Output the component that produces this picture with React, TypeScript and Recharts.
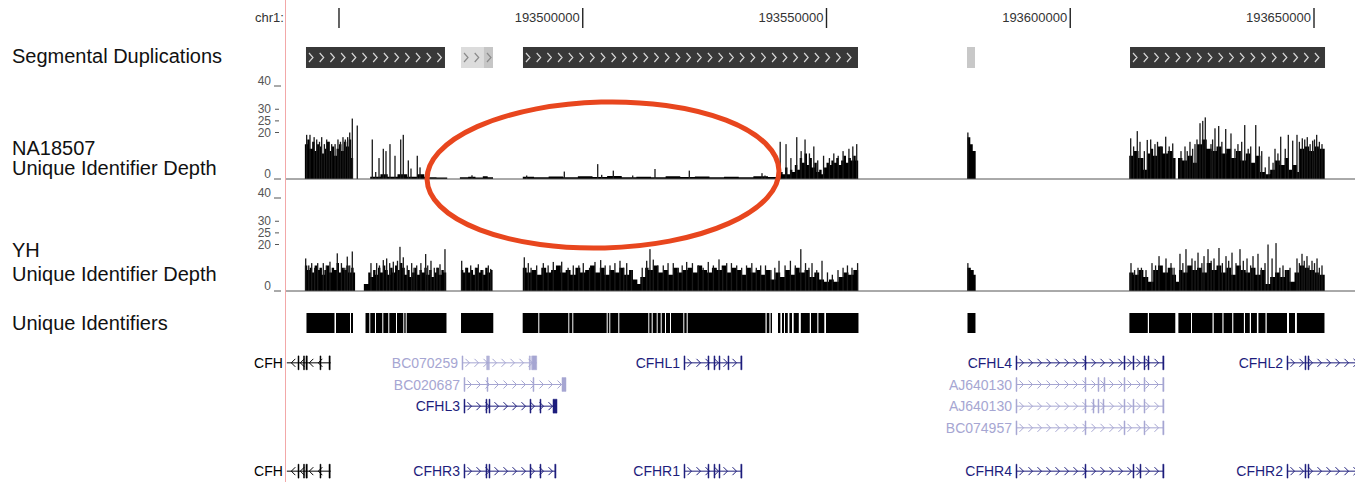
import React from 'react'
import { ComposedChart, Area, Bar, XAxis, YAxis, ReferenceArea, ReferenceLine } from 'recharts'

// chr1 window shown, in kb
const viewStart = 193439.13
const viewEnd = 193658.41

const rulerTicks = [193450, 193500, 193550, 193600, 193650]
const rulerLabels = ['', '193500000', '193550000', '193600000', '193650000']
const depthTicks = [0, 20, 25, 30, 40]

// Segmental duplications (kb) and % identity level
const segDupStart = [193443.23, 193475.03, 193479.74, 193487.74, 193578.82, 193612.26]
const segDupEnd = [193471.74, 193479.74, 193481.59, 193556.46, 193580.46, 193652.26]
const segDupIdentity = [0.995, 0.985, 0.99, 0.995, 0.988, 0.995]

// NA18507 depth: coverage steps [pos kb, depth] and single-base peaks
const naCoverage = [
  [193443.0, 15], [193443.5, 17], [193444.0, 13], [193444.5, 16], [193445.0, 12], [193445.5, 15], [193446.0, 14], [193446.5, 11],
  [193447.0, 13], [193447.5, 16], [193448.0, 12], [193448.5, 14], [193449.0, 10], [193449.5, 13], [193450.0, 15], [193450.5, 12],
  [193451.0, 16], [193451.5, 14], [193452.0, 17], [193452.5, 9], [193452.9, 0],
  [193456.4, 1], [193458.5, 2], [193460.0, 1], [193462.0, 2], [193464.0, 1], [193466.0, 2], [193467.5, 1],
  [193468.0, 0.8], [193470.0, 0.6], [193472.2, 0],
  [193474.8, 0.7], [193476.5, 1.0], [193478.0, 0.6], [193479.5, 1.2], [193480.5, 0.7], [193481.6, 0],
  [193487.7, 1.0], [193490, 0.7], [193493, 1.1], [193496, 0.8], [193499, 1.2], [193502, 0.9], [193505, 1.3], [193508, 0.8],
  [193511, 1.0], [193514, 0.7], [193517, 1.2], [193520, 0.9], [193523, 1.1], [193526, 0.8], [193529, 1.0], [193532, 0.7],
  [193535, 1.2], [193538, 0.9],
  [193540.3, 3], [193541, 2], [193541.5, 5], [193542, 2], [193542.5, 4], [193543, 3], [193543.5, 6], [193544, 4], [193544.5, 9],
  [193545, 7], [193545.5, 11], [193546, 6], [193546.5, 9], [193547, 5], [193547.5, 7], [193548, 3], [193548.5, 4], [193549, 2],
  [193549.5, 5], [193550, 7], [193550.5, 6], [193551, 8], [193551.5, 7], [193552, 9], [193552.5, 6], [193553, 8], [193553.5, 10],
  [193554, 7], [193554.5, 9], [193555, 8], [193555.5, 10], [193556, 8], [193556.5, 0],
  [193578.9, 18], [193579.5, 15], [193580, 12], [193580.6, 0],
  [193612.1, 10], [193613, 12], [193614, 9], [193615, 4], [193615.8, 11], [193616.5, 13], [193617, 10], [193618, 14], [193619, 11],
  [193620, 12], [193621, 9], [193621.6, 0], [193622.1, 9], [193623, 8], [193624, 10], [193625, 7], [193626, 15], [193627, 17],
  [193628, 13], [193629, 12], [193630, 14], [193631, 11], [193632, 13], [193633, 9], [193634, 12], [193635, 8], [193636, 11],
  [193637, 7], [193638, 10], [193639, 3], [193640, 2], [193641, 4], [193642, 8], [193643, 6], [193644, 9], [193644.8, 4],
  [193645.5, 6], [193646.5, 3], [193647, 13], [193648, 14], [193649, 12], [193650, 14], [193651, 13], [193652.2, 0],
]
const naPeaks = [
  [193443.37, 19], [193444.05, 19], [193444.9, 18], [193445.43, 17], [193446.0, 16], [193446.45, 18], [193447.0, 15],
  [193447.48, 17], [193448.0, 16], [193448.5, 15], [193449.2, 15], [193449.79, 17], [193450.3, 16], [193450.82, 18],
  [193451.3, 17], [193451.78, 18], [193452.2, 20], [193452.73, 26], [193453.75, 23],
  [193456.83, 17], [193457.53, 3], [193458.21, 9], [193459.09, 13], [193459.64, 12], [193460.46, 15], [193461.49, 10],
  [193462.66, 17], [193463.19, 19], [193464.22, 8], [193464.77, 4.5], [193466.06, 10], [193466.62, 5],
  [193477.28, 1.6], [193488.5, 1.5], [193496.22, 3.2], [193503.07, 6.4], [193503.89, 1.8], [193506.27, 3.6], [193510.25, 1.5],
  [193514.82, 4.3], [193521.86, 3.6], [193536.77, 2.5], [193537.38, 1.5],
  [193540.5, 16], [193541.7, 15], [193542.7, 9], [193543.9, 18], [193544.8, 12], [193545.6, 17], [193546.5, 11], [193547.4, 14],
  [193548.2, 8], [193549.4, 10], [193550.6, 9], [193551.5, 11], [193552.4, 10], [193553.4, 12], [193554.6, 13], [193555.4, 14],
  [193556.2, 15],
  [193579.0, 20],
  [193612.4, 17.5], [193613.0, 14], [193613.75, 20.6], [193614.31, 16], [193615.2, 12], [193615.8, 16.8], [193616.5, 17],
  [193617.38, 15], [193617.9, 16], [193618.6, 14], [193619.58, 18.2], [193620.3, 14], [193621.02, 15.3], [193622.72, 12],
  [193623.54, 14], [193624.0, 12], [193624.56, 16], [193625.1, 13], [193625.59, 15], [193626.0, 17], [193626.62, 24],
  [193627.18, 25], [193627.7, 26.5], [193628.87, 15], [193629.2, 17], [193629.69, 21.8], [193630.45, 22.8], [193631.1, 16],
  [193631.89, 21.5], [193632.97, 19.6], [193633.79, 13], [193634.4, 15], [193635.17, 16], [193635.79, 23.2], [193636.5, 13],
  [193637.02, 14], [193638.05, 23.2], [193638.79, 14], [193639.28, 12], [193640.0, 5], [193640.77, 9.6], [193641.6, 7],
  [193642.0, 13], [193642.6, 11], [193643.17, 18.2], [193644.1, 13], [193644.73, 19], [193645.63, 16.5], [193646.51, 19],
  [193647.0, 16], [193647.6, 17.5], [193648.1, 17], [193648.62, 18], [193649.2, 15], [193649.73, 16.5], [193650.1, 17],
  [193650.55, 19], [193651.1, 16], [193651.64, 15],
]

// YH depth
const yhCoverage = [
  [193443.0, 11], [193443.5, 9], [193444, 10], [193444.5, 8], [193445, 11], [193445.5, 9], [193446, 10], [193446.5, 7], [193447, 9],
  [193447.5, 11], [193448, 8], [193448.5, 10], [193449, 9], [193449.5, 12], [193450, 8], [193450.5, 10], [193451, 9], [193451.5, 11],
  [193452, 8], [193452.5, 10], [193453, 8], [193453.3, 0],
  [193455.1, 3], [193456, 8], [193456.5, 6], [193457, 9], [193457.5, 7], [193458, 10], [193458.5, 8], [193459, 11], [193459.5, 9],
  [193460, 7], [193460.5, 10], [193461, 8], [193461.5, 11], [193462, 9], [193462.5, 12], [193463, 10], [193463.5, 7], [193464, 9],
  [193464.5, 6], [193465, 8], [193465.5, 10], [193466, 7], [193466.5, 9], [193467, 8], [193467.5, 10], [193468, 7], [193468.5, 9],
  [193469, 6], [193469.5, 8], [193470, 10], [193470.5, 7], [193471, 9], [193471.5, 8], [193472, 0],
  [193475, 9], [193475.5, 8], [193476, 10], [193476.5, 8], [193477, 9], [193477.5, 7], [193478, 10], [193478.5, 8], [193479, 9],
  [193479.5, 7], [193480, 10], [193480.5, 8], [193481, 9], [193481.5, 0],
  [193487.7, 10], [193488.5, 8], [193489.5, 9], [193490.5, 7], [193491.5, 10], [193492.5, 8], [193493.5, 9], [193494.5, 11],
  [193495.5, 8], [193496.5, 9], [193497.5, 7], [193498.5, 10], [193499.5, 8], [193500.5, 9], [193501.5, 11], [193502.5, 8],
  [193503.5, 10], [193504.5, 7], [193505.5, 9], [193506.5, 8], [193507.5, 10], [193508.5, 7], [193509.5, 9], [193510.3, 5],
  [193511.2, 3], [193511.8, 6], [193512.8, 10], [193513.5, 9], [193514.5, 11], [193515.5, 8], [193516.5, 9], [193517.5, 7],
  [193518.5, 10], [193519.5, 8], [193520.5, 9], [193521.5, 10], [193522.5, 8], [193523.5, 11], [193524.5, 9], [193525.5, 8],
  [193526.5, 10], [193527.5, 9], [193528.5, 11], [193529.5, 8], [193530.5, 10], [193531.5, 9], [193532.5, 7], [193533.5, 10],
  [193534.5, 8], [193535.5, 9], [193536.5, 7], [193537.5, 9], [193538.5, 5], [193539.5, 8], [193540.5, 6], [193541.5, 9],
  [193542.5, 7], [193543.5, 10], [193544.5, 8], [193545.5, 9], [193546.5, 6], [193547.5, 8], [193548.5, 5], [193549.5, 4],
  [193550.5, 5], [193551.5, 4], [193552.5, 6], [193553.5, 8], [193554.5, 7], [193555.5, 9], [193556.5, 0],
  [193578.9, 10], [193579.6, 9], [193580.2, 7], [193580.6, 0],
  [193612.1, 8], [193613, 7], [193614, 9], [193615, 6], [193616, 4], [193617, 9], [193618, 11], [193619, 8], [193620, 10],
  [193621, 7], [193621.7, 4], [193622.3, 9], [193623, 8], [193624, 11], [193625, 9], [193626, 10], [193627, 8], [193628, 12],
  [193629, 9], [193630, 11], [193631, 8], [193632, 10], [193633, 7], [193634, 11], [193635, 9], [193636, 8], [193637, 10],
  [193638, 7], [193639, 9], [193640, 3], [193641, 6], [193642, 8], [193643, 6], [193644, 9], [193645, 4], [193646, 8],
  [193647, 11], [193648, 10], [193649, 9], [193650, 8], [193651, 7], [193652.2, 0],
]
const yhPeaks = [
  [193443.17, 14], [193443.8, 11], [193444.4, 12], [193445.0, 10], [193445.63, 12], [193446.78, 12], [193447.4, 11],
  [193448.15, 12.6], [193449.65, 16.2], [193450.5, 12], [193451.2, 10], [193451.7, 14.8], [193452.2, 11], [193452.73, 17],
  [193456.56, 12], [193457.73, 12], [193458.3, 11], [193459.09, 13.3], [193459.78, 14], [193460.4, 12], [193461.14, 12.6],
  [193462.0, 13], [193462.51, 19], [193463.19, 14.5], [193464.0, 11], [193464.91, 12], [193465.4, 10], [193465.94, 11],
  [193466.8, 12], [193467.78, 15.9], [193468.2, 11], [193468.87, 13], [193469.55, 10], [193470.1, 10], [193470.72, 11.5],
  [193471.74, 18],
  [193475.17, 13], [193476.0, 10], [193477.02, 11], [193478.0, 10], [193478.58, 11.5], [193479.5, 9], [193480.63, 11],
  [193481.12, 9.5],
  [193488.01, 14.5], [193488.83, 12], [193489.4, 10], [193490.55, 11], [193491.91, 12], [193492.9, 11], [193493.96, 12.5],
  [193495.68, 12.6], [193497.0, 10], [193498.06, 11], [193499.2, 11], [193500.11, 12], [193501.4, 10], [193502.51, 12.5],
  [193503.68, 13.3], [193504.6, 11], [193505.59, 11], [193506.6, 12], [193507.64, 13], [193508.4, 10], [193509.02, 12],
  [193510.0, 9], [193512.2, 10], [193513.12, 13], [193513.79, 18], [193514.47, 13.5], [193515.4, 11], [193516.52, 11],
  [193517.5, 12], [193518.57, 12], [193519.6, 10], [193520.4, 11], [193521.32, 12.5], [193522.5, 12], [193523.7, 11],
  [193524.7, 10], [193525.75, 12.5], [193526.8, 11], [193527.95, 13.6], [193528.7, 10], [193529.53, 12], [193530.5, 12],
  [193531.58, 11], [193532.6, 10], [193533.6, 11], [193534.68, 12], [193535.6, 10], [193536.5, 11], [193537.49, 11],
  [193538.6, 9], [193539.4, 10], [193540.26, 13], [193541.5, 11], [193542.6, 13], [193543.6, 11], [193544.73, 18],
  [193545.7, 12], [193546.4, 10], [193547.03, 12], [193548.0, 9], [193549.08, 13], [193550.2, 8], [193551.2, 7],
  [193552.36, 9], [193553.4, 10], [193554.3, 11], [193555.23, 10], [193556.38, 12],
  [193579.0, 12],
  [193612.46, 12], [193613.2, 9], [193613.9, 10], [193614.6, 10], [193615.54, 9], [193616.77, 12], [193617.5, 11],
  [193618.21, 15], [193619.64, 14], [193620.67, 12], [193621.3, 10], [193622.51, 16], [193623.1, 12], [193623.74, 18],
  [193624.97, 14], [193625.6, 13], [193626.21, 16.5], [193627.0, 12], [193627.44, 15], [193628.26, 18], [193628.9, 13],
  [193629.49, 14], [193630.51, 18.5], [193631.2, 12], [193631.95, 15], [193632.5, 13], [193633.18, 16.5], [193634.0, 12],
  [193634.82, 18], [193635.5, 13], [193636.26, 14], [193637.0, 11], [193637.49, 15], [193638.51, 16], [193639.2, 10],
  [193639.95, 12], [193640.57, 20], [193641.4, 14], [193642.21, 20.6], [193643.0, 10], [193643.64, 11], [193644.4, 9],
  [193645.08, 10], [193646.51, 14], [193647.0, 12], [193647.54, 16], [193648.0, 13], [193648.56, 15], [193649.0, 11],
  [193649.59, 13], [193650.1, 12], [193650.62, 14], [193651.1, 10], [193651.64, 11],
]

// Unique identifier blocks (kb)
const uidStart = [
  193443.33, 193449.38, 193452.46,
  193455.44, 193456.42, 193457.59, 193459.09, 193460.32, 193461.9, 193463.39, 193463.89,
  193475.03,
  193487.68, 193491.09, 193497.24, 193498.06, 193505.12, 193505.65, 193507.5, 193513.65, 193514.35, 193515.37, 193516.2,
  193517.08, 193518.1, 193520.83, 193521.53, 193537.73, 193538.53, 193540.05, 193540.87, 193541.49, 193542.39, 193543.27,
  193544.73, 193546.82, 193548.34, 193549.9,
  193578.92,
  193612.13, 193616.15, 193622.18, 193624.97, 193629.43, 193631.44, 193633.45, 193635.85, 193637.08, 193638.6, 193640.3,
  193644.87, 193646.49,
]
const uidEnd = [
  193449.08, 193452.26, 193452.87,
  193456.22, 193457.38, 193458.88, 193460.11, 193461.69, 193463.19, 193463.68, 193472.05,
  193481.65,
  193490.88, 193497.04, 193497.86, 193504.91, 193505.45, 193507.29, 193513.45, 193514.14, 193515.17, 193515.99, 193516.87,
  193517.9, 193520.63, 193521.32, 193537.49, 193538.29, 193538.82, 193540.54, 193541.28, 193542.06, 193542.92, 193544.32,
  193546.57, 193548.11, 193549.55, 193556.56,
  193580.56,
  193615.91, 193621.55, 193624.77, 193629.18, 193631.21, 193633.22, 193635.62, 193636.83, 193638.29, 193640.05, 193644.46,
  193646.1, 193652.15,
]

// Genes
const geneNames = ['CFH', 'BC070259', 'BC020687', 'CFHL3', 'CFHL1', 'CFHL4', 'AJ640130', 'AJ640130', 'BC074957', 'CFHL2',
  'CFH', 'CFHR3', 'CFHR1', 'CFHR4', 'CFHR2']
const geneRow = [0, 0, 1, 2, 0, 0, 1, 2, 3, 0, 5, 5, 5, 5, 5]
const geneKind = ['ref', 'mrna', 'mrna', 'known', 'known', 'known', 'mrna', 'mrna', 'mrna', 'known',
  'ref', 'known', 'known', 'known', 'known']
const geneStrand = ['-', '+', '+', '+', '+', '+', '+', '+', '+', '+', '-', '+', '+', '+', '+']
const geneStart = [193439.3, 193475.23, 193475.64, 193475.64, 193520.77, 193588.87, 193588.87, 193588.87, 193588.87, 193644.46,
  193439.3, 193475.64, 193520.77, 193588.87, 193644.46]
const geneEnd = [193448.3, 193490.55, 193496.56, 193494.72, 193532.67, 193619.23, 193619.23, 193619.23, 193619.23, 193660,
  193448.3, 193494.51, 193532.67, 193619.23, 193660]
const geneExons = [
  [[193441.59, 193441.8], [193442.72, 193442.93], [193443.23, 193443.5], [193446.1, 193446.3], [193447.95, 193448.2]],
  [[193475.23, 193475.43], [193480.3, 193480.5], [193480.63, 193480.83], [193489.04, 193489.24], [193489.53, 193489.73], [193489.74, 193490.55]],
  [[193475.64, 193475.84], [193480.36, 193480.56], [193489.79, 193489.99], [193495.74, 193496.56]],
  [[193475.64, 193475.84], [193480.15, 193480.35], [193480.77, 193480.97], [193489.18, 193489.38], [193491.23, 193491.43], [193493.9, 193494.72]],
  [[193520.77, 193520.97], [193525.69, 193525.89], [193526.92, 193527.12], [193527.95, 193528.15], [193529.79, 193529.99], [193532.42, 193532.67]],
  [[193588.87, 193589.07], [193603.03, 193603.23], [193611.03, 193611.23], [193612.87, 193613.07], [193615.13, 193615.33], [193615.95, 193616.15], [193618.98, 193619.23]],
  [[193588.87, 193589.07], [193603.03, 193603.23], [193605.69, 193605.89], [193606.92, 193607.12], [193611.03, 193611.23], [193615.13, 193615.33], [193618.98, 193619.23]],
  [[193588.87, 193589.07], [193603.03, 193603.23], [193604.67, 193604.87], [193605.69, 193605.89], [193606.72, 193606.92], [193611.03, 193611.23], [193612.87, 193613.07], [193615.13, 193615.33], [193618.98, 193619.23]],
  [[193588.87, 193589.07], [193603.03, 193603.23], [193611.03, 193611.23], [193615.13, 193615.33], [193618.98, 193619.23]],
  [[193644.46, 193644.66], [193648.15, 193648.35], [193648.77, 193648.97]],
  [[193441.59, 193441.8], [193442.72, 193442.93], [193443.23, 193443.5], [193446.1, 193446.3], [193447.95, 193448.2]],
  [[193475.64, 193475.84], [193480.15, 193480.35], [193480.77, 193480.97], [193489.18, 193489.38], [193491.23, 193491.43], [193494.26, 193494.51]],
  [[193520.77, 193520.97], [193525.69, 193525.89], [193526.92, 193527.12], [193527.95, 193528.15], [193532.42, 193532.67]],
  [[193588.87, 193589.07], [193603.03, 193603.23], [193612.87, 193613.07], [193614.31, 193614.51], [193618.98, 193619.23]],
  [[193644.46, 193644.66], [193648.15, 193648.35], [193648.77, 193648.97]],
]

const FONT = '"Liberation Sans", Arial, Helvetica, sans-serif'
const kindColor: Record<string, string> = { ref: '#000000', known: '#1d1d7c', mrna: '#a6a6d2' }

const toRows = (pairs: number[][]) => pairs.map(([pos, v]) => ({ pos, v }))

function segColor(identity: number) {
  if (identity >= 0.994) return { fill: '#383838', mark: '#d6d6d6' }
  if (identity >= 0.99) return { fill: '#c6c6c6', mark: '#8a8a8a' }
  if (identity >= 0.987) return { fill: '#c8c8c8', mark: '#8a8a8a' }
  return { fill: '#dcdcdc', mark: '#8a8a8a' }
}

function SegBlock(p: any) {
  const { x, y, width, height, fill, mark } = p
  const mid = y + height / 2
  let d = ''
  if (width > 8.5) {
    for (let cx = x + 3; cx < x + width - 4.5; cx += 10.7) {
      d += `M${cx},${mid - 4.5}L${cx + 4},${mid}L${cx},${mid + 4.5}`
    }
  }
  return (
    <g>
      <rect x={x} y={y} width={width} height={height} fill={fill} />
      {d && <path d={d} fill="none" stroke={mark} strokeWidth={1.2} />}
    </g>
  )
}

function RulerTick(p: any) {
  const { x, payload } = p
  const label = rulerLabels[rulerTicks.indexOf(payload.value)]
  return (
    <g>
      <line x1={x} x2={x} y1={8} y2={28} stroke="#222" strokeWidth={1.4} />
      {label ? (
        <text x={x - 3} y={22} textAnchor="end" fontSize={13} fill="#333" fontFamily={FONT}>{label}</text>
      ) : null}
    </g>
  )
}

function DepthTick(p: any) {
  const { x, y, payload } = p
  const v = payload.value
  const underline = v === 0 || v === 40
  return (
    <g>
      <text x={x - 15} y={underline ? y - 1 : y + 4} textAnchor="end" fontSize={12} fill="#555" fontFamily={FONT}>{v}</text>
      <line x1={underline ? x - 12 : x - 11} x2={underline ? x - 5 : x - 7} y1={y} y2={y} stroke="#555" strokeWidth={1} />
    </g>
  )
}

// one-base peak drawn as a hairline from the bar geometry recharts computes
function Peak(p: any) {
  const { x, y, width, height } = p
  if (!(height > 0)) return null
  return <rect x={x + width / 2 - 0.65} y={y} width={1.3} height={height} fill="#1a1a1a" />
}

function GeneLine(p: any) {
  const { x1, y1, x2, color, name, strand } = p
  let d = ''
  for (let cx = x1 + 6; cx < x2 - 4; cx += 9) {
    d += strand === '+'
      ? `M${cx - 2.5},${y1 - 4}L${cx + 1.5},${y1}L${cx - 2.5},${y1 + 4}`
      : `M${cx + 2.5},${y1 - 4}L${cx - 1.5},${y1}L${cx + 2.5},${y1 + 4}`
  }
  return (
    <g>
      <line x1={x1} x2={x2} y1={y1} y2={y1} stroke={color} strokeWidth={1} />
      <path d={d} fill="none" stroke={color} strokeWidth={1} />
      <text x={x1 - 4} y={y1 + 5} textAnchor="end" fontSize={14} fill={color} fontFamily={FONT}>{name}</text>
    </g>
  )
}

function DepthTrack({ top, coverage, peaks }: { top: number; coverage: number[][]; peaks: number[][] }) {
  return (
    <div style={{ position: 'absolute', left: 0, top }}>
      <ComposedChart width={1355} height={112} data={toRows(peaks)} margin={{ top: 16, right: 0, bottom: 3, left: 246 }}>
        <XAxis type="number" dataKey="pos" domain={[viewStart, viewEnd]} allowDataOverflow hide />
        <YAxis type="number" domain={[0, 40]} ticks={depthTicks} interval={0} width={40} tickLine={false}
          axisLine={false} tickSize={0} tickMargin={0} tick={DepthTick} allowDataOverflow />
        <ReferenceLine y={0} stroke="#555" />
        <Area data={toRows(coverage)} dataKey="v" type="stepAfter" stroke="none" fill="#000" fillOpacity={1}
          isAnimationActive={false} />
        <Bar dataKey="v" barSize={1} fill="#1a1a1a" shape={Peak} isAnimationActive={false} />
      </ComposedChart>
    </div>
  )
}

export default function App() {
  const edge = [{ pos: viewStart, v: 0 }, { pos: viewEnd, v: 1 }]
  return (
    <div style={{ position: 'relative', width: 1355, height: 482, background: '#fff', overflow: 'hidden' }}>
      <style>{'body{margin:0}'}</style>

      {/* ruler + segmental duplications */}
      <div style={{ position: 'absolute', left: 0, top: 0 }}>
        <ComposedChart width={1355} height={75} data={edge} margin={{ top: 0, right: 0, bottom: 0, left: 286 }}>
          <XAxis type="number" dataKey="pos" domain={[viewStart, viewEnd]} allowDataOverflow orientation="top" height={40}
            ticks={rulerTicks} interval={0} tick={RulerTick} tickLine={false} axisLine={false} />
          <YAxis type="number" dataKey="v" domain={[0, 1]} allowDataOverflow hide />
          {segDupStart.map((s, i) => {
            const c = segColor(segDupIdentity[i])
            return (
              <ReferenceArea key={i} x1={s} x2={segDupEnd[i]} y1={0.2} y2={0.8} ifOverflow="visible"
                shape={(p: any) => <SegBlock {...p} fill={c.fill} mark={c.mark} />} />
            )
          })}
        </ComposedChart>
      </div>

      <DepthTrack top={70} coverage={naCoverage} peaks={naPeaks} />
      <DepthTrack top={182} coverage={yhCoverage} peaks={yhPeaks} />

      {/* unique identifiers */}
      <div style={{ position: 'absolute', left: 0, top: 313 }}>
        <ComposedChart width={1355} height={20} data={edge} margin={{ top: 0, right: 0, bottom: 0, left: 286 }}>
          <XAxis type="number" dataKey="pos" domain={[viewStart, viewEnd]} allowDataOverflow hide />
          <YAxis type="number" dataKey="v" domain={[0, 1]} allowDataOverflow hide />
          {uidStart.map((s, i) => (
            <ReferenceArea key={i} x1={s} x2={uidEnd[i]} y1={0} y2={1} fill="#000" fillOpacity={1} stroke="none"
              ifOverflow="visible" />
          ))}
        </ComposedChart>
      </div>

      {/* genes */}
      <div style={{ position: 'absolute', left: 0, top: 352 }}>
        <ComposedChart width={1355} height={130} data={edge} margin={{ top: 0, right: 0, bottom: 0, left: 286 }}>
          <XAxis type="number" dataKey="pos" domain={[viewStart, viewEnd]} allowDataOverflow hide />
          <YAxis type="number" domain={[-0.5, 5.5]} reversed hide allowDataOverflow />
          {geneNames.map((name, i) => {
            const color = kindColor[geneKind[i]]
            const row = geneRow[i]
            return (
              <React.Fragment key={i}>
                <ReferenceLine segment={[{ x: geneStart[i], y: row }, { x: geneEnd[i], y: row }]} ifOverflow="visible"
                  shape={(p: any) => <GeneLine {...p} color={color} name={name} strand={geneStrand[i]} />} />
                {geneExons[i].map(([s, e], j) => (
                  <ReferenceArea key={j} x1={s} x2={e} y1={row - 0.32} y2={row + 0.32} fill={color} fillOpacity={1}
                    stroke={color} strokeWidth={0.5} ifOverflow="visible" />
                ))}
              </React.Fragment>
            )
          })}
        </ComposedChart>
      </div>

      {/* track labels and annotation */}
      <svg width={1355} height={482} style={{ position: 'absolute', left: 0, top: 0, pointerEvents: 'none' }}>
        <g fontFamily={FONT} fontSize={20} fill="#111">
          <text x={12} y={63}>Segmental Duplications</text>
          <text x={12} y={155}>NA18507</text>
          <text x={12} y={175}>Unique Identifier Depth</text>
          <text x={12} y={257}>YH</text>
          <text x={12} y={281}>Unique Identifier Depth</text>
          <text x={12} y={330}>Unique Identifiers</text>
        </g>
        <text x={255} y={22} fontFamily={FONT} fontSize={13} fill="#333">chr1:</text>
        <line x1={285.5} x2={285.5} y1={0} y2={482} stroke="#f2a8a8" strokeWidth={1} />
        <ellipse cx={603} cy={175} rx={176} ry={73} fill="none" stroke="#e8461e" strokeWidth={5}
          transform="rotate(-1.5 603 175)" />
      </svg>
    </div>
  )
}
